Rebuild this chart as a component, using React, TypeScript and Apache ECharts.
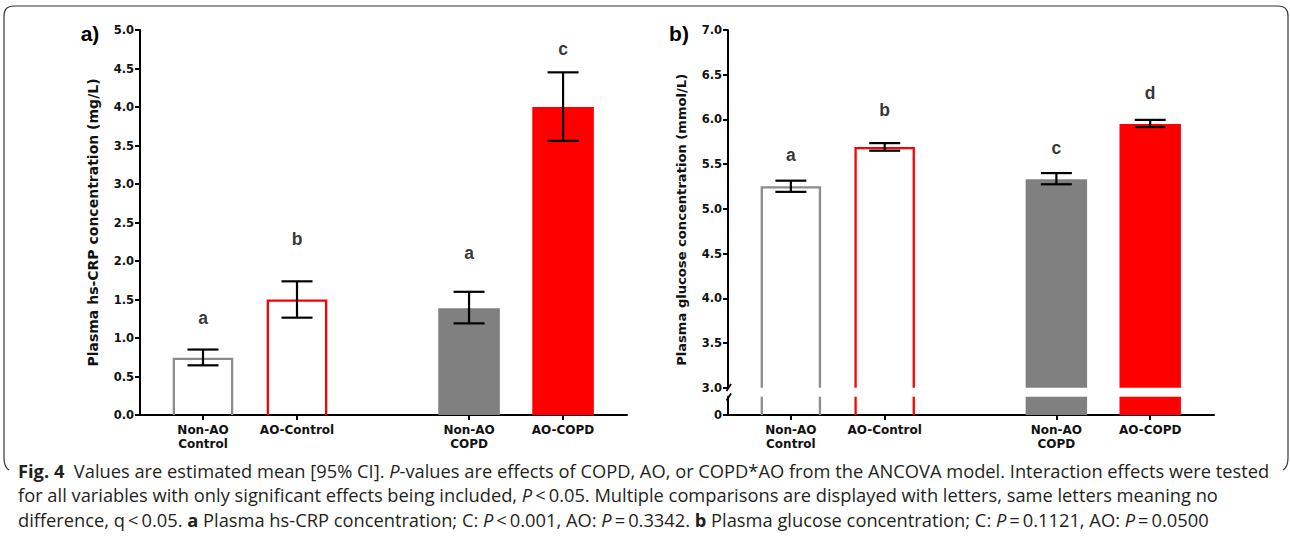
import React, { useEffect, useRef } from "react";
import * as echarts from "echarts";

// ---------- data ----------
const groups = ["Non-AO\nControl", "AO-Control", "Non-AO\nCOPD", "AO-COPD"];

const crpMean = [0.73, 1.485, 1.385, 4.0];
const crpLow = [0.645, 1.264, 1.19, 3.56];
const crpHigh = [0.85, 1.736, 1.6, 4.45];
const crpLetters = ["a", "b", "a", "c"];
const crpLetterY = [1.26, 2.29, 2.1, 4.75];

const gluMean = [5.24, 5.68, 5.33, 5.95];
const gluLow = [5.19, 5.65, 5.275, 5.915];
const gluHigh = [5.315, 5.735, 5.4, 5.995];
const gluLetters = ["a", "b", "c", "d"];
const gluLetterY = [5.6, 6.11, 5.685, 6.3];

const crpAxisName = "Plasma hs-CRP concentration (mg/L)";
const gluAxisName = "Plasma glucose concentration (mmol/L)";

// ---------- layout / style ----------
const xPos = [1, 2, 3.83, 4.83];
const xMin = 0.33;
const xMax = 5.51;
const hollow = [true, true, false, false];
const barColors = ["#8c8c8c", "#ff0000", "#808080", "#ff0000"];
const FONT = "DejaVu Sans";
const LETTER_FONT = "Liberation Sans";
const CAP_FONT = "Open Sans";
const CAP_SIZE = 18.3;

echarts.graphic.registerShape(
  "frame",
  echarts.graphic.extendPath(
    "M 9 470 Q 4 467 4 458 L 4 16 Q 4 6 14 6 L 1278 6 Q 1288 6 1288 16 L 1288 458 Q 1288 467 1283 470",
    {}
  )
);

function labelFor(v: number) {
  for (let i = 0; i < xPos.length; i++) if (Math.abs(xPos[i] - v) < 1e-6) return groups[i];
  return "";
}

function makeBarRender(base: number, clipTop: number | null) {
  return (params: any, api: any) => {
    const i = params.dataIndex;
    const x = api.value(0);
    const v = api.value(1);
    const top = clipTop != null ? Math.min(v, clipTop) : v;
    const p0 = api.coord([x, base]);
    const p1 = api.coord([x, top]);
    const color = barColors[i];
    if (hollow[i]) {
      const hw = api.size([0.62, 0])[0] / 2;
      const l = p0[0] - hw;
      const r = p0[0] + hw;
      if (!(clipTop != null && v > clipTop)) {
        return {
          type: "polyline",
          shape: {
            points: [
              [l, p0[1]],
              [l, p1[1]],
              [r, p1[1]],
              [r, p0[1]],
            ],
          },
          style: { stroke: color, lineWidth: 2.3, fill: "none" },
        };
      }
      return {
        type: "group",
        children: [
          { type: "line", shape: { x1: l, y1: p0[1], x2: l, y2: p1[1] }, style: { stroke: color, lineWidth: 2.3 } },
          { type: "line", shape: { x1: r, y1: p0[1], x2: r, y2: p1[1] }, style: { stroke: color, lineWidth: 2.3 } },
        ],
      };
    }
    const hw = api.size([0.655, 0])[0] / 2;
    return {
      type: "rect",
      shape: { x: p0[0] - hw, y: p1[1], width: hw * 2, height: p0[1] - p1[1] },
      style: { fill: color },
    };
  };
}

function errRender(params: any, api: any) {
  const x = api.value(0);
  const lo = api.coord([x, api.value(1)]);
  const hi = api.coord([x, api.value(2)]);
  const hw = api.size([0.33, 0])[0] / 2;
  const st = { stroke: "#000", lineWidth: 2.2 };
  return {
    type: "group",
    children: [
      { type: "line", shape: { x1: lo[0], y1: lo[1], x2: hi[0], y2: hi[1] }, style: st },
      { type: "line", shape: { x1: lo[0] - hw, y1: lo[1], x2: lo[0] + hw, y2: lo[1] }, style: st },
      { type: "line", shape: { x1: hi[0] - hw, y1: hi[1], x2: hi[0] + hw, y2: hi[1] }, style: st },
    ],
  };
}

const axisLineStyle = { color: "#000", width: 2 };
const tickLabelStyle = { color: "#111", fontFamily: FONT, fontWeight: "bold" as const, fontSize: 11.5 };

function xAxisDef(gridIndex: number, show: boolean) {
  return {
    type: "value",
    gridIndex,
    show,
    min: xMin,
    max: xMax,
    axisLine: { show: true, onZero: false, lineStyle: axisLineStyle },
    axisTick: { show: true, customValues: xPos, length: 5, lineStyle: axisLineStyle },
    axisLabel: {
      show: true,
      customValues: xPos,
      formatter: (v: number) => labelFor(v),
      ...tickLabelStyle,
      fontSize: 12,
      lineHeight: 14,
      margin: 8,
    },
    splitLine: { show: false },
  };
}

function yAxisDef(
  gridIndex: number,
  min: number,
  max: number,
  interval: number,
  name: string,
  nameSize: number,
  pad: number[]
) {
  return {
    type: "value",
    gridIndex,
    min,
    max,
    interval,
    name,
    nameLocation: "middle",
    nameRotate: 90,
    nameGap: 40,
    nameTextStyle: { color: "#111", fontFamily: FONT, fontWeight: "bold", fontSize: nameSize, padding: pad },
    axisLine: { show: true, onZero: false, lineStyle: axisLineStyle },
    axisTick: { show: true, length: 5, lineStyle: axisLineStyle },
    axisLabel: { ...tickLabelStyle, margin: 6, formatter: (v: number) => v.toFixed(1) },
    splitLine: { show: false },
  };
}

const letterLabel = (letters: string[]) => ({
  show: true,
  position: "inside",
  formatter: (p: any) => letters[p.dataIndex],
  color: "#000",
  fontFamily: LETTER_FONT,
  fontWeight: "bold",
  fontSize: 17.5,
});

const capStyleBase = { fontFamily: CAP_FONT, fontSize: CAP_SIZE, fill: "#231f20" };
const capRich = {
  b: { fontFamily: CAP_FONT, fontSize: CAP_SIZE, fontWeight: "bold", color: "#231f20" },
  i: { fontFamily: CAP_FONT, fontSize: CAP_SIZE, fontStyle: "italic", color: "#231f20" },
};
const capLines = [
  "{b|Fig. 4}  Values are estimated mean [95% CI]. {i|P}-values are effects of COPD, AO, or COPD*AO from the ANCOVA model. Interaction effects were tested",
  "for all variables with only significant effects being included, {i|P}\u2009<\u20090.05. Multiple comparisons are displayed with letters, same letters meaning no",
  "difference, q\u2009<\u20090.05. {b|a} Plasma hs-CRP concentration; C: {i|P}\u2009<\u20090.001, AO: {i|P}\u2009=\u20090.3342. {b|b} Plasma glucose concentration; C: {i|P}\u2009=\u20090.1121, AO: {i|P}\u2009=\u20090.0500",
];
const capY = [470, 494.5, 519];

const option: any = {
  animation: false,
  backgroundColor: "#fff",
  grid: [
    { left: 140, top: 30, width: 487, height: 385 },
    { left: 728, top: 30, width: 486, height: 357.7 },
    { left: 728, top: 396.7, width: 486, height: 18.3 },
  ],
  xAxis: [xAxisDef(0, true), xAxisDef(1, false), xAxisDef(2, true)],
  yAxis: [
    yAxisDef(0, 0, 5, 0.5, crpAxisName, 14, [0, 0, 0, 0]),
    yAxisDef(1, 3, 7, 0.5, gluAxisName, 13.1, [0, 22, 0, 0]),
    {
      type: "value",
      gridIndex: 2,
      min: 0,
      max: 1,
      axisLine: { show: true, onZero: false, lineStyle: axisLineStyle },
      axisTick: { show: true, length: 5, customValues: [0], lineStyle: axisLineStyle },
      axisLabel: { ...tickLabelStyle, margin: 6, customValues: [0], formatter: () => "0" },
      splitLine: { show: false },
    },
  ],
  series: [
    // panel a
    {
      type: "custom",
      xAxisIndex: 0,
      yAxisIndex: 0,
      renderItem: makeBarRender(0, null),
      data: crpMean.map((v, i) => [xPos[i], v]),
      z: 2,
    },
    {
      type: "custom",
      xAxisIndex: 0,
      yAxisIndex: 0,
      renderItem: errRender,
      data: crpMean.map((_, i) => [xPos[i], crpLow[i], crpHigh[i]]),
      z: 3,
    },
    {
      type: "scatter",
      xAxisIndex: 0,
      yAxisIndex: 0,
      symbolSize: 1,
      itemStyle: { color: "rgba(0,0,0,0)" },
      label: letterLabel(crpLetters),
      data: crpLetterY.map((v, i) => [xPos[i], v]),
      z: 4,
    },
    // panel b (upper segment)
    {
      type: "custom",
      xAxisIndex: 1,
      yAxisIndex: 1,
      renderItem: makeBarRender(3, null),
      data: gluMean.map((v, i) => [xPos[i], v]),
      z: 2,
    },
    {
      type: "custom",
      xAxisIndex: 1,
      yAxisIndex: 1,
      renderItem: errRender,
      data: gluMean.map((_, i) => [xPos[i], gluLow[i], gluHigh[i]]),
      z: 3,
    },
    {
      type: "scatter",
      xAxisIndex: 1,
      yAxisIndex: 1,
      symbolSize: 1,
      itemStyle: { color: "rgba(0,0,0,0)" },
      label: letterLabel(gluLetters),
      data: gluLetterY.map((v, i) => [xPos[i], v]),
      z: 4,
    },
    // panel b (lower segment, below the axis break)
    {
      type: "custom",
      xAxisIndex: 2,
      yAxisIndex: 2,
      renderItem: makeBarRender(0, 1),
      data: gluMean.map((v, i) => [xPos[i], v]),
      z: 2,
    },
  ],
  graphic: [
    { type: "frame", x: 0, y: 0, style: { fill: "none", stroke: "#333", lineWidth: 1.2 } },
    {
      type: "text",
      x: 90,
      y: 33,
      style: { text: "a)", fontFamily: LETTER_FONT, fontWeight: "bold", fontSize: 21, fill: "#000", align: "center", verticalAlign: "middle" },
    },
    {
      type: "text",
      x: 679,
      y: 33,
      style: { text: "b)", fontFamily: LETTER_FONT, fontWeight: "bold", fontSize: 21, fill: "#000", align: "center", verticalAlign: "middle" },
    },
    // axis break marks
    { type: "line", shape: { x1: 731, y1: 384, x2: 726.5, y2: 391 }, style: { stroke: "#000", lineWidth: 1.8 } },
    { type: "line", shape: { x1: 731, y1: 393.5, x2: 726.5, y2: 400.5 }, style: { stroke: "#000", lineWidth: 1.8 } },
    ...capLines.map((t, k) => ({
      type: "text",
      x: 18,
      y: capY[k],
      style: { text: t, ...capStyleBase, rich: capRich, align: "left", verticalAlign: "middle" },
    })),
  ],
};

export default function App() {
  const ref = useRef<HTMLDivElement>(null);
  useEffect(() => {
    document.body.style.margin = "0";
    const chart = echarts.init(ref.current!, null, { renderer: "svg" });
    chart.setOption(option);
    return () => chart.dispose();
  }, []);
  return <div ref={ref} style={{ width: 1290, height: 545 }} />;
}
